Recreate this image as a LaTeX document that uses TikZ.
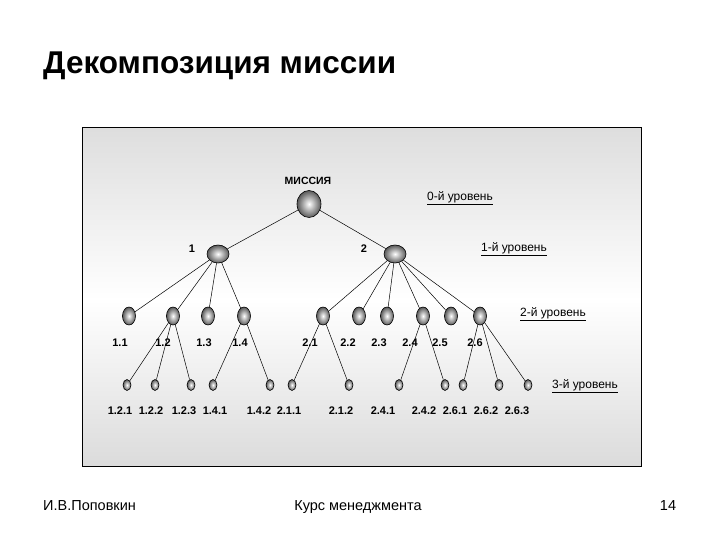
\documentclass[tikz,border=0pt]{standalone}
\usepackage{fontspec}
\setmainfont{Liberation Sans}
\usetikzlibrary{shapes.geometric}
\begin{document}
\begin{tikzpicture}[x=1pt,y=-1pt,
  ballnode/.style={ellipse,draw=black,line width=0.6pt,inner sep=0pt,
    inner color=white,outer color=black!65},
  lvl0/.style={ballnode,minimum width=24pt,minimum height=27pt},
  lvl1/.style={ballnode,minimum width=22pt,minimum height=18pt},
  lvl2/.style={ballnode,minimum width=13pt,minimum height=18pt},
  lvl3/.style={ballnode,minimum width=8pt,minimum height=11pt},
  num/.style={font=\fontsize{11}{13}\selectfont\bfseries,inner sep=0pt},
  levlabel/.style={font=\fontsize{12}{14}\selectfont,inner sep=0pt},
  edge/.style={line width=0.5pt}]
\useasboundingbox (0,0) rectangle (720,540);
\fill[white] (0,0) rectangle (720,540);
% title
\node[anchor=base west,inner sep=0pt,font=\fontsize{31.5}{35}\selectfont\bfseries] (title) at (43,74) {Декомпозиция миссии};
% frame with shading
\shade[top color=black!13,bottom color=white] (82,128) rectangle (641,300);
\shade[top color=white,bottom color=black!14] (82,300) rectangle (641,466);
\draw[line width=1pt] (82,128) rectangle (641,466);
% level labels
\node[levlabel] (l0) at (460,198) {\underline{0-й уровень}};
\node[levlabel] (l1) at (514,249) {\underline{1-й уровень}};
\node[levlabel] (l2) at (553,314) {\underline{2-й уровень}};
\node[levlabel] (l3) at (585,386) {\underline{3-й уровень}};
% level 0
\node[lvl0] (m) at (309,204) {};
\node[num,font=\fontsize{10.5}{12}\selectfont\bfseries] (mt) at (308,181) {МИССИЯ};
% level 1
\node[lvl1] (n1) at (218,254) {};
\node[lvl1] (n2) at (395,254) {};
\node[num] (t1) at (192,249) {1};
\node[num] (t2) at (364,249) {2};
% level 2
\foreach \n/\x in {11/129,12/173,13/208,14/244,21/323,22/359,23/387,24/423,25/451,26/480}{
  \node[lvl2] (n\n) at (\x,316) {};
}
\node[num] (t11) at (120,343) {1.1};
\node[num] (t12) at (163,343) {1.2};
\node[num] (t13) at (204,343) {1.3};
\node[num] (t14) at (240,343) {1.4};
\node[num] (t21) at (310,343) {2.1};
\node[num] (t22) at (348,343) {2.2};
\node[num] (t23) at (379,343) {2.3};
\node[num] (t24) at (410,343) {2.4};
\node[num] (t25) at (440,343) {2.5};
\node[num] (t26) at (475,343) {2.6};
% level 3
\node[lvl3] (n121) at (127,385) {};
\node[lvl3] (n122) at (155,385) {};
\node[lvl3] (n123) at (191,385) {};
\node[lvl3] (n141) at (213,385) {};
\node[lvl3] (n142) at (270,385) {};
\node[lvl3] (n211) at (292,385) {};
\node[lvl3] (n212) at (349,385) {};
\node[lvl3] (n241) at (399,385) {};
\node[lvl3] (n242) at (445,385) {};
\node[lvl3] (n261) at (463,385) {};
\node[lvl3] (n262) at (499,385) {};
\node[lvl3] (n263) at (528,385) {};
\node[num] (t121) at (120,411) {1.2.1};
\node[num] (t122) at (151,411) {1.2.2};
\node[num] (t123) at (184,411) {1.2.3};
\node[num] (t141) at (215,411) {1.4.1};
\node[num] (t142) at (259,411) {1.4.2};
\node[num] (t211) at (289,411) {2.1.1};
\node[num] (t212) at (341,411) {2.1.2};
\node[num] (t241) at (383,411) {2.4.1};
\node[num] (t242) at (424,411) {2.4.2};
\node[num] (t261) at (455,411) {2.6.1};
\node[num] (t262) at (486,411) {2.6.2};
\node[num] (t263) at (517,411) {2.6.3};
% edges
\foreach \p/\c in {m/n1,m/n2,n1/n11,n1/n12,n1/n13,n1/n14,n2/n21,n2/n22,n2/n23,n2/n24,n2/n25,n2/n26,
  n12/n121,n12/n122,n12/n123,n14/n141,n14/n142,n21/n211,n21/n212,n24/n241,n24/n242,n26/n261,n26/n262,n26/n263}{
  \draw[edge] (\p) -- (\c);
}
% footer
\node[anchor=base west,inner sep=0pt,font=\fontsize{14.5}{17}\selectfont] (f1) at (43,510) {И.В.Поповкин};
\node[anchor=base,inner sep=0pt,font=\fontsize{14.5}{17}\selectfont] (f2) at (358,510) {Курс менеджмента};
\node[anchor=base,inner sep=0pt,font=\fontsize{14.5}{17}\selectfont] (f3) at (668,510) {14};
\end{tikzpicture}
\end{document}
